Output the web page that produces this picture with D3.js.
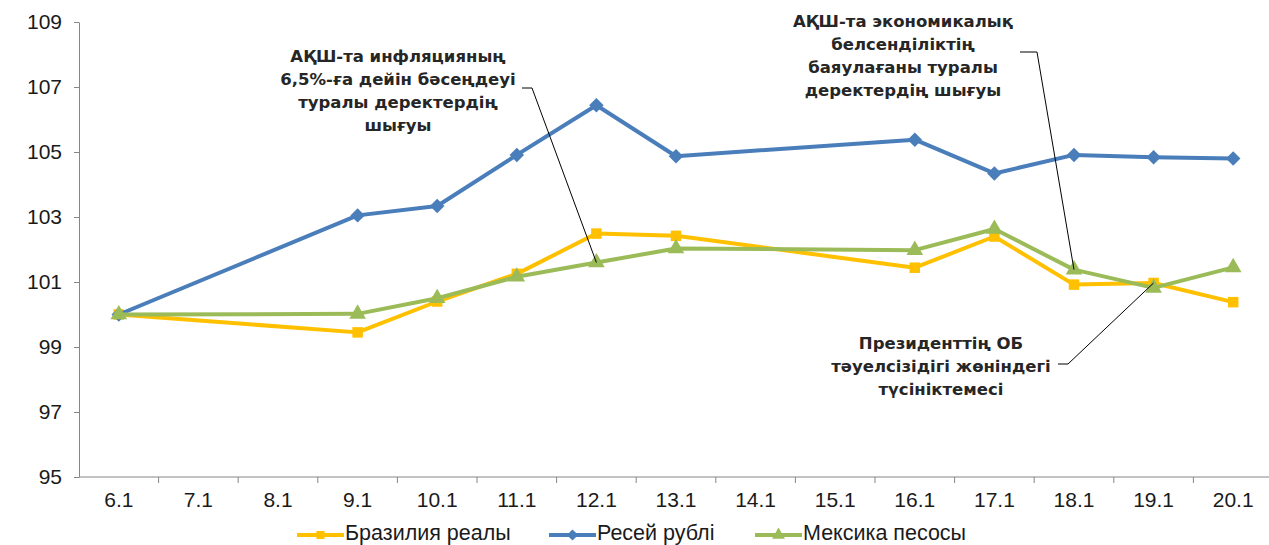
<!DOCTYPE html>
<html>
<head>
<meta charset="utf-8">
<script src="https://cdn.jsdelivr.net/npm/d3@7"></script>
<style>
  body { margin: 0; background: #fff; }
  svg { display: block; }
  .axis text { font-family: "Liberation Sans", Arial, sans-serif; font-size: 21px; fill: #1a1a1a; }
  .axis path, .axis line { stroke: #868686; }
  .note { font-family: "DejaVu Sans", sans-serif; font-weight: bold; font-size: 16.5px; fill: #262626; }
  .legend text { font-family: "Liberation Sans", Arial, sans-serif; font-size: 21.5px; fill: #1a1a1a; }
</style>
</head>
<body>
<div id="chart-area"></div>
<script>
const W = 1269
const H = 545

// data
const dates = ["6.1", "7.1", "8.1", "9.1", "10.1", "11.1", "12.1", "13.1", "14.1", "15.1", "16.1", "17.1", "18.1", "19.1", "20.1"]
const brazil = [100, null, null, 99.45, 100.4, 101.25, 102.49, 102.42, null, null, 101.44, 102.4, 100.92, 100.97, 100.38]
const russia = [100, null, null, 103.05, 103.34, 104.91, 106.44, 104.87, null, null, 105.38, 104.34, 104.91, 104.84, 104.8]
const mexico = [100, null, null, 100.02, 100.5, 101.16, 101.6, 102.03, null, null, 101.98, 102.63, 101.38, 100.82, 101.45]
const yTicks = [95, 97, 99, 101, 103, 105, 107, 109]
const seriesNames = ["Бразилия реалы", "Ресей рублі", "Мексика песосы"]

const notes = [
  { lines: ["АҚШ-та инфляцияның", "6,5%-ға дейін бәсеңдеуі", "туралы деректердің", "шығуы"], date: "12.1", series: mexico },
  { lines: ["АҚШ-та экономикалық", "белсенділіктің", "баяулағаны туралы", "деректердің шығуы"], date: "18.1", series: mexico },
  { lines: ["Президенттің ОБ", "тәуелсізідігі жөніндегі", "түсініктемесі"], date: "19.1", series: brazil }
]

const svg = d3.select("#chart-area").append("svg")
  .attr("width", W)
  .attr("height", H)

// Scales
const x = d3.scaleBand()
  .domain(dates)
  .range([79, 1273])
const cx = d => x(d) + x.bandwidth() / 2
const y = d3.scaleLinear()
  .domain([95, 109])
  .range([477, 22])

// Y Axis
svg.append("g")
  .attr("class", "axis")
  .attr("transform", "translate(79,0)")
  .call(d3.axisLeft(y).tickValues(yTicks).tickSize(5).tickSizeOuter(0).tickPadding(12))

// X Axis
const xAxis = svg.append("g")
  .attr("class", "axis")
  .attr("transform", "translate(0,477)")
  .call(d3.axisBottom(x).tickSize(0).tickSizeOuter(0).tickPadding(15))
xAxis.select(".domain").attr("d", "M79,0H1269")
xAxis.selectAll(".bound")
  .data(dates.slice(1))
  .enter().append("line")
  .attr("class", "bound")
  .attr("x1", d => x(d)).attr("x2", d => x(d))
  .attr("y1", 0).attr("y2", 6)

// diamond = square turned 45deg
const series = [
  { name: seriesNames[0], values: brazil, color: "#FFC000", marker: d3.symbolSquare, size: 110, rot: 0 },
  { name: seriesNames[1], values: russia, color: "#4A7EBB", marker: d3.symbolSquare, size: 105, rot: 45 },
  { name: seriesNames[2], values: mexico, color: "#9BBB59", marker: d3.symbolTriangle, size: 120, rot: 0 }
]

const line = d3.line()
  .x(d => cx(d.date))
  .y(d => y(d.value))

series.forEach(s => {
  const pts = dates.map((date, i) => ({ date, value: s.values[i] })).filter(p => p.value != null)
  const g = svg.append("g")
  g.append("path")
    .datum(pts)
    .attr("fill", "none")
    .attr("stroke", s.color)
    .attr("stroke-width", 4)
    .attr("stroke-linejoin", "round")
    .attr("d", line)
  g.selectAll("path.mk")
    .data(pts)
    .enter().append("path")
    .attr("class", "mk")
    .attr("fill", s.color)
    .attr("transform", p => `translate(${cx(p.date)},${y(p.value)}) rotate(${s.rot})`)
    .attr("d", d3.symbol().type(s.marker).size(s.size))
})

// Annotations
const noteLayout = [
  { x: 398, y0: 62, leader: [[522, 88], [532, 88]] },
  { x: 903, y0: 27, leader: [[1020, 52], [1037, 52]] },
  { x: 941, y0: 349, leader: [[1058, 364], [1068, 364]] }
]
notes.forEach((n, i) => {
  const L = noteLayout[i]
  const t = svg.append("text")
    .attr("class", "note")
    .attr("text-anchor", "middle")
  n.lines.forEach((ln, j) => {
    t.append("tspan").attr("x", L.x).attr("y", L.y0 + j * 23).text(ln)
  })
  const k = dates.indexOf(n.date)
  const pts = L.leader.concat([[cx(n.date), y(n.series[k])]])
  svg.append("path")
    .attr("fill", "none")
    .attr("stroke", "#000")
    .attr("stroke-width", 1)
    .attr("d", d3.line()(pts))
})

// Legend
const legendX = [297, 549, 755]
const legend = svg.append("g").attr("class", "legend")
series.forEach((s, i) => {
  const row = legend.append("g").attr("transform", `translate(${legendX[i]},535)`)
  row.append("line")
    .attr("x1", 0).attr("x2", 47)
    .attr("stroke", s.color).attr("stroke-width", 4)
  row.append("path")
    .attr("transform", `translate(23.5,0) rotate(${s.rot})`)
    .attr("fill", s.color)
    .attr("d", d3.symbol().type(s.marker).size(s.size * 0.6))
  row.append("text")
    .attr("x", 48)
    .attr("y", 5)
    .text(s.name)
})
</script>
</body>
</html>
